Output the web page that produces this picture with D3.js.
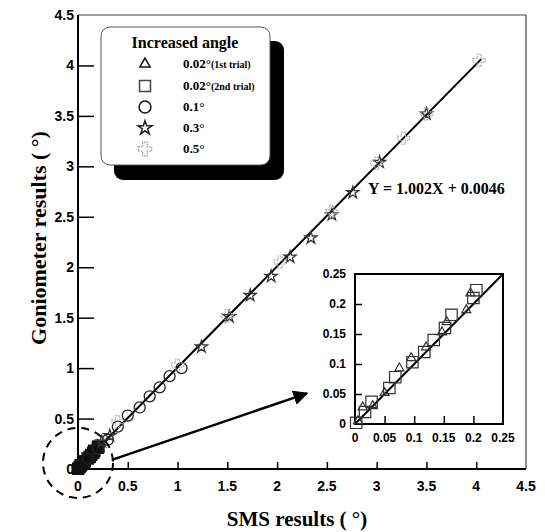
<!DOCTYPE html>
<html>
<head>
<meta charset="utf-8">
<script src="https://cdn.jsdelivr.net/npm/d3@7"></script>
<style>
  body { margin: 0; background: #fff; }
  .tick-lbl { font-family: "Liberation Sans", Arial, sans-serif; font-weight: bold; font-size: 14px; }
  .inset-lbl { font-family: "Liberation Sans", Arial, sans-serif; font-weight: bold; font-size: 12px; }
  .serif { font-family: "Liberation Serif", "Times New Roman", serif; font-weight: bold; }
</style>
</head>
<body>
<div id="chart"></div>
<script>
// tick values
var mainTicks = [0, 0.5, 1, 1.5, 2, 2.5, 3, 3.5, 4, 4.5];
var insetTicks = [0, 0.05, 0.1, 0.15, 0.2, 0.25];

// series (SMS x, goniometer y)
var tri1X = [0.005, 0.013, 0.03, 0.05, 0.075, 0.095, 0.12, 0.147, 0.155, 0.188, 0.195];
var tri1Y = [0.005, 0.028, 0.03, 0.052, 0.093, 0.11, 0.128, 0.153, 0.17, 0.19, 0.218];
var sq2X = [0.002, 0.017, 0.028, 0.058, 0.068, 0.097, 0.117, 0.133, 0.152, 0.163, 0.2, 0.205];
var sq2Y = [0.002, 0.02, 0.037, 0.06, 0.078, 0.103, 0.12, 0.14, 0.16, 0.182, 0.21, 0.223];
var circX = [0.1, 0.2, 0.3, 0.4, 0.5, 0.62, 0.72, 0.82, 0.92, 1.04];
var circY = [0.1, 0.2, 0.29, 0.42, 0.53, 0.61, 0.72, 0.81, 0.92, 1.0];
var starX = [0.24, 0.32, 1.24, 1.52, 1.73, 1.94, 2.13, 2.34, 2.55, 2.76, 3.03, 3.5];
var starY = [0.27, 0.33, 1.21, 1.51, 1.72, 1.91, 2.1, 2.29, 2.52, 2.74, 3.04, 3.52];
var halfX = [0.4, 1.0, 1.5, 2.03, 2.55, 3.0, 3.27, 3.5, 4.03];
var halfY = [0.47, 1.03, 1.52, 2.05, 2.55, 3.03, 3.28, 3.52, 4.05];

var slope = 1.002, intercept = 0.0046, fitEnd = 4.05;

var legendLabels = ["0.02°", "0.02°", "0.1°", "0.3°", "0.5°"];
var legendNotes = ["(1st trial)", "(2nd trial)", "", "", ""];

var W = 545, H = 532;
var svg = d3.select("#chart").append("svg").attr("width", W).attr("height", H);

var x = d3.scaleLinear().domain([0, 4.5]).range([78, 526]);
var y = d3.scaleLinear().domain([0, 4.5]).range([469, 15]);
var ix = d3.scaleLinear().domain([0, 0.25]).range([355, 503]);
var iy = d3.scaleLinear().domain([0, 0.25]).range([424, 274]);

// frame top / right
svg.append("line").attr("x1", x(0)).attr("x2", x(4.5)).attr("y1", y(4.5)).attr("y2", y(4.5))
  .attr("stroke", "#444").attr("stroke-width", 1.2);
svg.append("line").attr("x1", x(4.5)).attr("x2", x(4.5)).attr("y1", y(4.5)).attr("y2", y(0))
  .attr("stroke", "#444").attr("stroke-width", 1.2);

// axes with inward ticks
var xAxis = d3.axisTop(x).tickValues(mainTicks.slice(1, -1)).tickSize(7).tickFormat("");
svg.append("g").attr("transform", "translate(0," + y(0) + ")").call(xAxis)
  .call(g => g.select(".domain").remove())
  .selectAll("line").attr("stroke", "#000").attr("stroke-width", 1.5);
var yAxis = d3.axisRight(y).tickValues(mainTicks.slice(1, -1)).tickSize(16).tickFormat("");
svg.append("g").attr("transform", "translate(" + x(0) + ",0)").call(yAxis)
  .call(g => g.select(".domain").remove())
  .selectAll("line").attr("stroke", "#000").attr("stroke-width", 1.5);
svg.append("line").attr("x1", x(0)).attr("x2", x(4.5)).attr("y1", y(0)).attr("y2", y(0))
  .attr("stroke", "#000").attr("stroke-width", 2);
svg.append("line").attr("x1", x(0)).attr("x2", x(0)).attr("y1", y(0)).attr("y2", y(4.5))
  .attr("stroke", "#000").attr("stroke-width", 2);

// tick labels
svg.selectAll(".xl").data(mainTicks).enter().append("text").attr("class", "tick-lbl")
  .attr("x", d => x(d)).attr("y", 491).attr("text-anchor", "middle").text(d => d);
svg.selectAll(".yl").data(mainTicks).enter().append("text").attr("class", "tick-lbl")
  .attr("x", 74).attr("y", d => y(d) + 5).attr("text-anchor", "end").text(d => d);

// axis titles
svg.append("text").attr("class", "serif").attr("font-size", 21).attr("x", 297).attr("y", 526)
  .attr("text-anchor", "middle").text("SMS results ( °)");
svg.append("text").attr("class", "serif").attr("font-size", 22)
  .attr("transform", "translate(46,238) rotate(-90)").attr("text-anchor", "middle")
  .text("Goniometer results ( °)");

// symbols
var sym = {
  tri: d3.symbol().type(d3.symbolTriangle).size(40),
  sq: d3.symbol().type(d3.symbolSquare).size(90),
  circ: d3.symbol().type(d3.symbolCircle).size(95),
  star: d3.symbol().type(d3.symbolStar).size(45),
  half: d3.symbol().type(d3.symbolCross).size(80)
};
function drawSeries(g, xs, ys, sx, sy, s, color, dash, w) {
  g.selectAll(null).data(xs.map((v, i) => [v, ys[i]])).enter().append("path")
    .attr("d", s).attr("transform", d => "translate(" + sx(d[0]) + "," + sy(d[1]) + ")")
    .attr("fill", "none").attr("stroke", color).attr("stroke-width", w || 1.3)
    .attr("stroke-dasharray", dash || null);
}

// fit line main
svg.append("line").attr("x1", x(0)).attr("y1", y(intercept)).attr("x2", x(fitEnd)).attr("y2", y(slope * fitEnd + intercept))
  .attr("stroke", "#000").attr("stroke-width", 2);

var gm = svg.append("g");
drawSeries(gm, tri1X, tri1Y, x, y, sym.tri, "#111", null, 3);
drawSeries(gm, sq2X, sq2Y, x, y, sym.sq, "#111", null, 3);
drawSeries(gm, circX, circY, x, y, sym.circ, "#222");
drawSeries(gm, starX, starY, x, y, sym.star, "#333");
drawSeries(gm, halfX, halfY, x, y, sym.half, "#aaa", "1.5,1");

svg.append("text").attr("class", "serif").attr("font-size", 16).attr("x", 368).attr("y", 194)
  .text("Y = 1.002X + 0.0046");

// dashed circle and arrow
svg.append("circle").attr("cx", x(0)).attr("cy", y(0.06)).attr("r", 35)
  .attr("fill", "none").attr("stroke", "#000").attr("stroke-width", 2).attr("stroke-dasharray", "8,6");
svg.append("defs").append("marker").attr("id", "ah").attr("viewBox", "0 0 10 10")
  .attr("refX", 9).attr("refY", 5).attr("markerWidth", 6).attr("markerHeight", 6).attr("orient", "auto")
  .append("path").attr("d", "M0,0L10,5L0,10Z").attr("fill", "#000");
svg.append("line").attr("x1", x(0.34)).attr("y1", y(0.09)).attr("x2", x(2.3)).attr("y2", y(0.75))
  .attr("stroke", "#000").attr("stroke-width", 2.5).attr("marker-end", "url(#ah)");

// inset
var gi = svg.append("g");
gi.append("rect").attr("x", ix(0)).attr("y", iy(0.25)).attr("width", ix(0.25) - ix(0)).attr("height", iy(0) - iy(0.25))
  .attr("fill", "#fff").attr("stroke", "#000").attr("stroke-width", 2);
gi.append("g").attr("transform", "translate(0," + iy(0) + ")")
  .call(d3.axisTop(ix).tickValues(insetTicks.slice(1, -1)).tickSize(8).tickFormat(""))
  .call(g => g.select(".domain").remove()).selectAll("line").attr("stroke", "#000").attr("stroke-width", 1.5);
gi.append("g").attr("transform", "translate(" + ix(0) + ",0)")
  .call(d3.axisRight(iy).tickValues(insetTicks.slice(1, -1)).tickSize(7).tickFormat(""))
  .call(g => g.select(".domain").remove()).selectAll("line").attr("stroke", "#000").attr("stroke-width", 1.5);
gi.selectAll(".ixl").data(insetTicks).enter().append("text").attr("class", "inset-lbl")
  .attr("x", d => ix(d)).attr("y", 442).attr("text-anchor", "middle").text(d => d);
gi.selectAll(".iyl").data(insetTicks).enter().append("text").attr("class", "inset-lbl")
  .attr("x", 346).attr("y", d => iy(d) + 4).attr("text-anchor", "end").text(d => d);
gi.append("line").attr("x1", ix(0)).attr("y1", iy(0)).attr("x2", ix(0.25)).attr("y2", iy(0.25))
  .attr("stroke", "#000").attr("stroke-width", 2);
drawSeries(gi, sq2X, sq2Y, ix, iy, d3.symbol().type(d3.symbolSquare).size(130), "#333", null, 1.2);
drawSeries(gi, tri1X, tri1Y, ix, iy, d3.symbol().type(d3.symbolTriangle).size(35), "#333", null, 1.2);

// legend
var lg = svg.append("g");
lg.append("rect").attr("x", 114).attr("y", 41).attr("width", 170).attr("height", 139).attr("rx", 9)
  .attr("fill", "#000");
lg.append("rect").attr("x", 101).attr("y", 27).attr("width", 169).attr("height", 138).attr("rx", 9)
  .attr("fill", "#fff").attr("stroke", "#555").attr("stroke-width", 1);
lg.append("text").attr("class", "serif").attr("font-size", 16).attr("x", 185).attr("y", 48)
  .attr("text-anchor", "middle").text("Increased angle");
var legSyms = [
  [d3.symbol().type(d3.symbolTriangle).size(45), "#111", null],
  [d3.symbol().type(d3.symbolSquare).size(120), "#444", null],
  [d3.symbol().type(d3.symbolCircle).size(110), "#111", null],
  [d3.symbol().type(d3.symbolStar).size(60), "#222", null],
  [d3.symbol().type(d3.symbolCross).size(100), "#aaa", "1.5,1"]
];
var rowY = [64, 86, 107, 128, 149];
legendLabels.forEach(function(lab, i) {
  lg.append("path").attr("d", legSyms[i][0]).attr("transform", "translate(145," + rowY[i] + ")")
    .attr("fill", "none").attr("stroke", legSyms[i][1]).attr("stroke-width", 1.5)
    .attr("stroke-dasharray", legSyms[i][2]);
  var t = lg.append("text").attr("class", "serif").attr("font-size", 13).attr("x", 183).attr("y", rowY[i] + 4).text(lab);
  if (legendNotes[i]) t.append("tspan").attr("font-size", 10).text(legendNotes[i]);
});
</script>
</body>
</html>
